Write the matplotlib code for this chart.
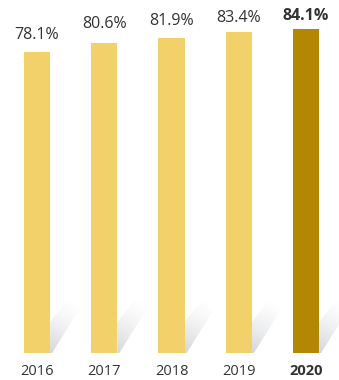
import numpy as np
import matplotlib.pyplot as plt
from matplotlib.patches import Polygon
from matplotlib.colors import to_rgb

years = ['2016', '2017', '2018', '2019', '2020']
values = [78.1, 80.6, 81.9, 83.4, 84.1]
highlight = '2020'

light = '#f2d16b'
dark = '#b38604'
text_col = '#333333'

# gap between bar top and label baseline, in points
label_gap = [9.5, 10.8, 9.5, 7.5, 6.5]

plt.rcParams['font.family'] = ['Open Sans', 'DejaVu Sans']

fig = plt.figure(figsize=(3.39, 3.80), dpi=100)
ax = fig.add_axes([0, 27 / 380, 1, 353 / 380])
ax.axis('off')

width = 0.39
x = np.arange(len(years))
cols = [dark if y == highlight else light for y in years]
ax.bar(x, values, width=width, color=cols, zorder=3)

# pixel -> data scales for the shadow shape
px_x = 1 / 67.25
px_y = 1 / 3.85
shadow_px = [(0, 0), (2, 0), (32, 48), (21, 58), (0, 31)]
gray = np.array(to_rgb('#c2c4c9'))

for xi in x:
    x0 = xi + width / 2
    pts = [(x0 + a * px_x, b * px_y) for a, b in shadow_px]
    poly = Polygon(pts, closed=True, facecolor='none', edgecolor='none')
    ax.add_patch(poly)
    # gradient fading from lower left to upper right
    gx, gy = np.meshgrid(np.linspace(0, 34, 80), np.linspace(0, 60, 120))
    t = (gx * 0.5 + gy * 0.87) / 58
    t = np.clip(t, 0, 1)
    img = np.ones((120, 80, 4))
    img[..., :3] = gray
    img[..., 3] = 0.7 * (1 - t) ** 1.5
    im = ax.imshow(img, extent=(x0, x0 + 34 * px_x, 0, 60 * px_y),
                   origin='lower', aspect='auto', zorder=2, interpolation='bilinear')
    im.set_clip_path(poly)

ax.set_xlim(-0.55, 4.49)
ax.set_ylim(0, 91.7)

for xi, y, v, g in zip(x, years, values, label_gap):
    bold = 'bold' if y == highlight else 'normal'
    ax.annotate(f'{v}%', (xi, v), xytext=(0, g), textcoords='offset points',
                ha='center', va='baseline', fontsize=11.5, color=text_col,
                fontweight=bold)
    ax.annotate(y, (xi, 0), xytext=(0, -16), textcoords='offset points',
                ha='center', va='baseline', fontsize=10.5, color=text_col,
                fontweight=bold)

fig.savefig('out.png', dpi=100)
